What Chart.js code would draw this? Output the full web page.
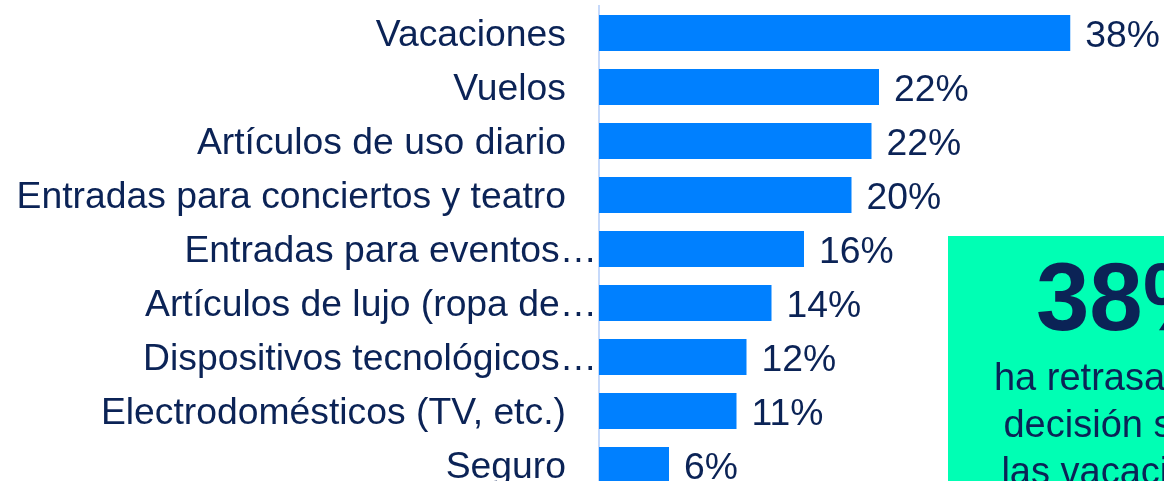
<!DOCTYPE html>
<html>
<head>
<meta charset="utf-8">
<script src="https://cdn.jsdelivr.net/npm/chart.js@4.4.1/dist/chart.umd.min.js"></script>
<style>
  html, body { margin: 0; padding: 0; background: #ffffff; overflow: hidden; }
  #wrap { width: 1164px; height: 492px; position: relative; }
</style>
</head>
<body>
<div id="wrap"><canvas id="c" width="1164" height="492"></canvas></div>
<script>
const categories = [
  "Vacaciones",
  "Vuelos",
  "Artículos de uso diario",
  "Entradas para conciertos y teatro",
  "Entradas para eventos…",
  "Artículos de lujo (ropa de…",
  "Dispositivos tecnológicos…",
  "Electrodomésticos (TV, etc.)",
  "Seguro"
];
const values = [37.7, 22.4, 21.8, 20.2, 16.4, 13.8, 11.8, 11.0, 5.6];
const calloutValue = "38%";
const calloutLines = ["ha retrasado su", "decisión sobre", "las vacaciones"];

const NAVY = "#0B2356";
const BAR = "#0080FF";
const FONT = "'Liberation Sans', Arial, sans-serif";
const FSIZE = 37.3;

const valueLabels = {
  id: "valueLabels",
  afterDatasetsDraw(chart) {
    const ctx = chart.ctx;
    const meta = chart.getDatasetMeta(0);
    ctx.save();
    ctx.font = FSIZE + "px " + FONT;
    ctx.fillStyle = NAVY;
    ctx.textAlign = "left";
    ctx.textBaseline = "alphabetic";
    meta.data.forEach((bar, i) => {
      ctx.fillText(Math.round(values[i]) + "%", bar.x + 15, bar.y + 13.5);
    });
    ctx.restore();
  }
};

const callout = {
  id: "callout",
  afterDraw(chart) {
    const ctx = chart.ctx;
    ctx.save();
    ctx.fillStyle = "#00FFB4";
    ctx.fillRect(948, 236, 420, 300);
    ctx.fillStyle = NAVY;
    ctx.textAlign = "center";
    ctx.textBaseline = "alphabetic";
    ctx.font = "bold 96px " + FONT;
    ctx.fillText(calloutValue, 1132, 330);
    ctx.font = "38px " + FONT;
    const ys = [390, 437, 484];
    calloutLines.forEach((t, i) => ctx.fillText(t, 1126, ys[i]));
    ctx.restore();
  }
};

new Chart(document.getElementById("c"), {
  type: "bar",
  data: {
    labels: categories,
    datasets: [{
      data: values,
      backgroundColor: BAR,
      borderWidth: 0,
      categoryPercentage: 1,
      barPercentage: 36 / 54
    }]
  },
  options: {
    indexAxis: "y",
    responsive: false,
    devicePixelRatio: 1,
    animation: false,
    layout: { padding: { top: 6, left: 0, right: 0, bottom: 0 } },
    plugins: { legend: { display: false }, tooltip: { enabled: false } },
    scales: {
      x: { display: false, min: 0, max: 45.2 },
      y: {
        afterFit(scale) {
          scale.width = 599;
          scale.paddingTop = 0;
          scale.paddingBottom = 0;
        },
        grid: { display: false, drawTicks: false },
        border: { display: true, color: "#C6D9FA", width: 2 },
        ticks: {
          padding: 2,
          labelOffset: 3,
          color: NAVY,
          font: { family: FONT, size: FSIZE },
          autoSkip: false,
          callback(v, i) {
            const l = categories[i];
            return l.endsWith("…") ? l : l + "   ";
          }
        }
      }
    }
  },
  plugins: [valueLabels, callout]
});
</script>
</body>
</html>
